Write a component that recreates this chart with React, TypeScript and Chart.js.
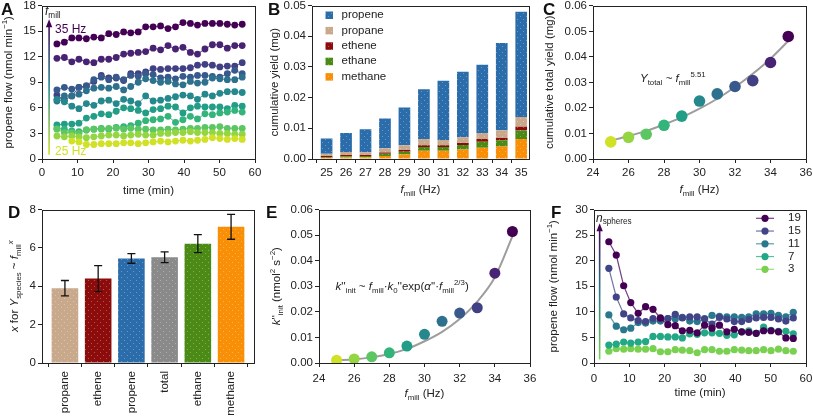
import React, { useEffect, useRef } from 'react';
import { Chart, registerables } from 'chart.js';
Chart.register(...registerables);

const FONT = '"Liberation Sans", Arial, Helvetica, sans-serif';
const W = 813;
const H = 418;
const FS = 11.5;
const INK = '#222222';

// ---------------- Panel A data ----------------
const timeMin = [4.2, 6.3, 8.4, 10.4, 12.5, 14.6, 16.7, 18.8, 20.9, 23.0, 25.0, 27.1, 29.2, 31.3, 33.4, 35.5, 37.6, 39.7, 41.8, 43.8, 45.9, 48.0, 50.1, 52.2, 54.3, 56.4];
const millHz = [25, 26, 27, 28, 29, 30, 31, 32, 33, 34, 35];
const flowA25 = [null, null, 2.1, 2.0, 1.7, 1.7, 1.8, 1.8, 1.8, 1.9, 1.9, 1.8, 1.9, 2.0, 2.1, 2.0, 2.1, 2.2, 2.1, 2.2, 2.3, 2.5, 2.4, 2.3, 2.4, 2.3];
const flowA26 = [2.7, 2.6, 2.7, 2.6, 2.5, 2.6, 2.7, 2.8, 2.8, 2.7, 2.8, 2.9, 2.8, 2.8, 3.0, 3.0, 3.1, 3.1, 3.2, 3.1, 3.1, 3.1, 3.0, 3.0, 2.9, 2.9];
const flowA27 = [3.5, 3.1, 3.1, 3.0, 3.4, 3.5, 3.5, 3.6, 3.6, 3.5, 3.6, 3.5, 3.5, 3.4, 3.4, 3.5, 3.4, 3.5, 3.6, 3.6, 3.7, 3.7, 3.8, 3.6, 3.6, 3.6];
const flowA28 = [3.6, 3.5, 3.3, 3.2, 3.4, 3.5, 3.6, 3.5, 3.7, 3.8, 3.9, 4.2, 4.5, 4.6, 4.7, 5.0, 4.3, 4.6, 5.0, 4.7, 5.3, 5.2, 5.4, 5.5, 5.7, 5.5];
const flowA29 = [4.0, 4.1, 4.1, 4.2, 4.8, 5.0, 5.3, 5.2, 5.6, 6.0, 5.9, 5.7, 5.4, 5.8, 5.9, 6.2, 6.1, 5.4, 6.0, 6.2, 6.1, 6.1, 6.1, 5.9, 6.3, 6.2];
const flowA30 = [7.0, 6.7, 6.2, 5.9, 6.5, 6.3, 6.8, 6.9, 6.5, 7.0, 6.8, 6.5, 7.4, 6.8, 6.9, 7.1, 7.3, 7.5, 7.4, 7.0, 7.6, 7.4, 7.7, 7.9, 7.9, 7.8];
const flowA31 = [6.8, 7.4, 7.4, 7.6, 8.0, 8.3, 8.4, 8.3, 8.5, 8.1, 8.5, 9.0, 9.4, 9.2, 9.0, 9.1, 8.8, 8.7, 9.1, 8.9, 9.0, 9.5, 9.4, 9.3, 9.3, 9.6];
const flowA32 = [8.1, 8.4, 8.2, 8.4, 8.6, 9.3, 9.6, 9.3, 9.6, 9.3, 9.8, 9.7, 10.0, 9.9, 9.5, 9.6, 9.4, 9.7, 9.6, 9.8, 9.8, 9.7, 9.6, 10.0, 10.4, 10.0];
const flowA33 = [7.5, 6.9, 7.4, 8.4, 8.5, 9.1, 9.8, 9.5, 9.5, 9.2, 10.0, 10.0, 10.2, 10.6, 10.5, 10.6, 10.6, 10.6, 10.7, 11.0, 11.1, 11.0, 10.8, 10.9, 10.9, 11.3];
const flowA34 = [11.8, 11.9, 11.4, 11.7, 11.4, 11.3, 11.7, 11.7, 11.9, 12.3, 12.4, 12.5, 12.6, 13.0, 12.8, 13.3, 12.9, 13.1, 12.5, 12.3, 12.9, 13.4, 13.4, 13.0, 13.3, 13.3];
const flowA35 = [13.5, 13.7, 14.2, 14.2, 14.1, 14.3, 14.2, 14.7, 14.6, 14.9, 14.8, 14.9, 15.5, 15.5, 15.6, 15.3, 15.5, 16.0, 15.9, 15.7, 15.9, 15.9, 15.9, 15.8, 15.7, 15.8];
const flowA = [flowA25, flowA26, flowA27, flowA28, flowA29, flowA30, flowA31, flowA32, flowA33, flowA34, flowA35];

// ---------------- Panel B data (stacked segments, mg) ----------------
const yieldMethane = [0.0003, 0.0005, 0.0006, 0.0010, 0.0015, 0.0027, 0.0027, 0.0031, 0.0037, 0.0041, 0.0065];
const yieldEthane = [0.0003, 0.0004, 0.0004, 0.0007, 0.0009, 0.0012, 0.0012, 0.0015, 0.0019, 0.0020, 0.0028];
const yieldEthene = [0.0004, 0.0004, 0.0003, 0.0004, 0.0005, 0.0006, 0.0006, 0.0006, 0.0009, 0.0007, 0.0012];
const yieldPropane = [0.0007, 0.0010, 0.0009, 0.0014, 0.0016, 0.0020, 0.0017, 0.0019, 0.0020, 0.0026, 0.0032];
const yieldPropene = [0.0050, 0.0062, 0.0075, 0.0097, 0.0123, 0.0162, 0.0193, 0.0213, 0.0222, 0.0284, 0.0343];
const legendB = ['propene', 'propane', 'ethene', 'ethane', 'methane'];

// ---------------- Panel C data ----------------
const totalYield = [0.0067, 0.0085, 0.0097, 0.0132, 0.0168, 0.0227, 0.0255, 0.0284, 0.0307, 0.0378, 0.0480];
const totalFit = [0.0072, 0.0090, 0.0110, 0.0135, 0.0163, 0.0197, 0.0236, 0.0282, 0.0334, 0.0393, 0.0462];

// ---------------- Panel D data ----------------
const speciesD = ['propane', 'ethene', 'propene', 'total', 'ethane', 'methane'];
const exponentD = [3.9, 4.4, 5.45, 5.51, 6.22, 7.1];
const exponentErr = [0.4, 0.68, 0.25, 0.28, 0.47, 0.65];

// ---------------- Panel E data ----------------
const kInit = [0.0011, 0.0016, 0.0024, 0.0040, 0.0066, 0.0112, 0.0163, 0.0195, 0.0216, 0.0351, 0.0514];
const kFit = [0.0010, 0.0015, 0.0022, 0.0035, 0.0055, 0.0085, 0.0122, 0.0172, 0.0240, 0.0335, 0.0495];

// ---------------- Panel F data ----------------
const nSpheres = [19, 15, 11, 7, 3];
const flowF19 = [23.7, 21.1, 15.1, 11.8, 9.7, 11.0, 10.5, 8.8, 7.5, 7.3, 6.3, 6.4, 5.9, 7.4, 6.8, 7.4, 6.1, 6.6, 6.1, 6.0, 5.8, 6.3, 6.3, 6.1, 4.9, 4.8];
const flowF15 = [18.5, 12.9, 9.6, 8.8, 8.3, 8.1, 8.7, 8.6, 8.7, 9.5, 8.8, 9.0, 9.0, 8.6, 7.6, 8.9, 8.6, 8.1, 8.1, 8.5, 8.8, 8.9, 8.9, 8.6, 8.2, 8.8];
const flowF11 = [9.4, 7.2, 6.5, 6.8, 7.9, 7.8, 8.2, 8.2, 8.7, 8.6, 8.9, 8.2, 8.1, 8.7, 9.3, 9.1, 9.0, 9.0, 8.9, 9.0, 9.6, 9.6, 9.7, 9.3, 9.0, 9.9];
const flowF7 = [3.5, 3.7, 4.1, 3.9, 4.1, 4.2, 5.2, 5.2, 5.1, 5.1, 4.9, 5.7, 5.6, 5.9, 5.9, 5.8, 5.4, 5.5, 6.1, 6.3, 5.8, 7.0, 6.4, 6.2, 6.2, 5.7];
const flowF3 = [2.3, 2.8, 2.7, 2.8, 2.7, 2.7, 2.8, 2.2, 2.2, 2.6, 2.5, 2.4, 2.0, 2.6, 2.6, 2.3, 2.3, 2.6, 2.5, 2.4, 2.4, 2.6, 2.4, 2.7, 2.4, 2.3];
const flowF = [flowF19, flowF15, flowF11, flowF7, flowF3];

// ---------------- Tick values ----------------
const ticksTime = [0, 10, 20, 30, 40, 50, 60];
const ticksFlowA = [0, 3, 6, 9, 12, 15, 18];
const ticksYieldB = [0, 0.01, 0.02, 0.03, 0.04, 0.05];
const ticksHz = [24, 26, 28, 30, 32, 34, 36];
const ticksYieldC = [0, 0.01, 0.02, 0.03, 0.04, 0.05, 0.06];
const ticksExpD = [0, 2, 4, 6, 8];
const ticksSpeciesD = [0, 1, 2, 3, 4, 5];
const ticksK = [0, 0.01, 0.02, 0.03, 0.04, 0.05, 0.06];
const ticksFlowF = [0, 5, 10, 15, 20, 25, 30];

// ---------------- Styles ----------------
const COL = {
  propene: '#2b6cab',
  propane: '#c9a98b',
  ethene: '#8c0c0c',
  ethane: '#4b8b15',
  methane: '#f98f06',
  total: '#8a8a8a',
};
const colorsD = [COL.propane, COL.ethene, COL.propene, COL.total, COL.ethane, COL.methane];

const VIR = ['#440154', '#482475', '#414487', '#355f8d', '#2a788e', '#21918c', '#22a884', '#44bf70', '#7ad151', '#bddf26', '#fde725'];
function hexToRgb(h: string) {
  const n = parseInt(h.slice(1), 16);
  return [(n >> 16) & 255, (n >> 8) & 255, n & 255];
}
function viridis(p: number, alpha = 1) {
  const x = Math.min(1, Math.max(0, p)) * 10;
  const i = Math.min(9, Math.floor(x));
  const f = x - i;
  const a = hexToRgb(VIR[i]);
  const b = hexToRgb(VIR[i + 1]);
  const c = a.map((v, k) => Math.round(v + (b[k] - v) * f));
  return `rgba(${c[0]},${c[1]},${c[2]},${alpha})`;
}
const hzColor = (hz: number, a = 1) => viridis((35 - hz) * 0.093, a);
const nColor = (n: number, a = 1) => viridis(((19 - n) / 16) * 0.8, a);

function dotted(color: string) {
  const c = document.createElement('canvas');
  c.width = 6;
  c.height = 6;
  const g = c.getContext('2d')!;
  g.fillStyle = color;
  g.fillRect(0, 0, 6, 6);
  g.fillStyle = 'rgba(255,255,255,0.3)';
  g.fillRect(1, 1, 1, 1);
  g.fillRect(4, 4, 1, 1);
  return g.createPattern(c, 'repeat') as CanvasPattern;
}

type Rect = { l: number; t: number; r: number; b: number };
const rectA: Rect = { l: 42, t: 5.5, r: 255, b: 159 };
const rectB: Rect = { l: 312, t: 5.5, r: 529, b: 159 };
const rectC: Rect = { l: 593, t: 5.5, r: 806, b: 159 };
const rectD: Rect = { l: 42, t: 209.5, r: 254, b: 363 };
const rectE: Rect = { l: 319, t: 209.5, r: 530, b: 363 };
const rectF: Rect = { l: 594, t: 209.5, r: 806, b: 363 };
const YW = 40;
const XH = 30;
const XH_D = 55;

type Seg = { t: string; i?: boolean; s?: 'sub' | 'sup' };

function drawRich(ctx: CanvasRenderingContext2D, segs: Seg[], x: number, y: number, size: number, color: string, align: 'left' | 'center' = 'center', rot = 0) {
  ctx.save();
  ctx.translate(x, y);
  if (rot) ctx.rotate(rot);
  ctx.fillStyle = color;
  ctx.textBaseline = 'middle';
  ctx.textAlign = 'left';
  const fontOf = (s: Seg) => `${s.i ? 'italic ' : ''}${s.s ? size * 0.68 : size}px ${FONT}`;
  let total = 0;
  const widths = segs.map((s) => {
    ctx.font = fontOf(s);
    const w = ctx.measureText(s.t).width;
    total += w;
    return w;
  });
  let cx = align === 'center' ? -total / 2 : 0;
  segs.forEach((s, k) => {
    ctx.font = fontOf(s);
    const dy = s.s === 'sub' ? size * 0.3 : s.s === 'sup' ? -size * 0.4 : 0;
    ctx.fillText(s.t, cx, dy);
    cx += widths[k];
  });
  ctx.restore();
}

function axis(horiz: boolean, min: number, max: number, vals: number[], fmt: (v: number) => string, pad = 3, extra: any = {}, size?: number) {
  return {
    type: 'linear',
    min,
    max,
    offset: false,
    grid: { display: true, drawOnChartArea: false, drawTicks: true, tickLength: 4, color: INK, tickColor: INK, lineWidth: 1 },
    border: { display: false },
    ticks: {
      color: INK,
      font: { family: FONT, size: FS },
      padding: pad,
      maxRotation: 0,
      minRotation: 0,
      autoSkip: false,
      callback: (v: any) => fmt(Number(v)),
    },
    afterBuildTicks: (s: any) => {
      s.ticks = vals.map((v) => ({ value: v }));
    },
    afterFit: (s: any) => {
      if (horiz) s.height = size ?? XH;
      else s.width = size ?? YW;
      s.paddingLeft = 0;
      s.paddingRight = 0;
      s.paddingTop = 0;
      s.paddingBottom = 0;
    },
    ...extra,
  };
}

const fmt0 = (v: number) => String(Math.round(v));
const fmt2 = (v: number) => v.toFixed(2);

function decor(rect: Rect, yTitle: Seg[], yTitleX: number, xTitle: Seg[] | null, xTitleY: number, extra?: (chart: any) => void) {
  return {
    id: 'decor',
    afterDraw(chart: any) {
      const ctx = chart.ctx as CanvasRenderingContext2D;
      const a = chart.chartArea;
      ctx.save();
      ctx.strokeStyle = INK;
      ctx.lineWidth = 1;
      const l = Math.round(a.left) + 0.5;
      const t = Math.round(a.top) + 0.5;
      const r = Math.round(a.right) + 0.5;
      const b = Math.round(a.bottom) + 0.5;
      ctx.strokeRect(l, t, r - l, b - t);
      ctx.restore();
      drawRich(ctx, yTitle, yTitleX, (rect.t + rect.b) / 2, FS, INK, 'center', -Math.PI / 2);
      if (xTitle) drawRich(ctx, xTitle, (rect.l + rect.r) / 2, xTitleY, FS, INK, 'center');
      if (extra) extra(chart);
    },
  };
}

function baseOptions(rect: Rect, scales: any, xh = XH) {
  return {
    responsive: false,
    animation: false,
    devicePixelRatio: 1,
    events: [],
    layout: { padding: { left: rect.l - YW, top: rect.t, right: W - rect.r, bottom: H - rect.b - xh } },
    plugins: { legend: { display: false }, tooltip: { enabled: false } },
    scales,
  };
}

function gradientArrow(ctx: CanvasRenderingContext2D, x: number, yBottom: number, yTop: number, cBottom: string, cMid: string, cTop: string) {
  const g = ctx.createLinearGradient(0, yBottom, 0, yTop);
  g.addColorStop(0, cBottom);
  g.addColorStop(0.5, cMid);
  g.addColorStop(1, cTop);
  ctx.save();
  ctx.strokeStyle = g;
  ctx.lineWidth = 1.6;
  ctx.beginPath();
  ctx.moveTo(x, yBottom);
  ctx.lineTo(x, yTop + 6);
  ctx.stroke();
  ctx.fillStyle = cTop;
  ctx.beginPath();
  ctx.moveTo(x, yTop);
  ctx.lineTo(x - 3.2, yTop + 8);
  ctx.lineTo(x + 3.2, yTop + 8);
  ctx.closePath();
  ctx.fill();
  ctx.restore();
}

const fMill: Seg[] = [{ t: 'f', i: true }, { t: 'mill', s: 'sub' }];

// ---------------- Chart configs ----------------
function cfgA() {
  return {
    type: 'line',
    data: {
      datasets: millHz.map((hz, k) => ({
        data: timeMin.map((t, i) => ({ x: t, y: flowA[k][i] })),
        borderColor: hzColor(hz, 0.85),
        backgroundColor: hzColor(hz),
        pointBackgroundColor: hzColor(hz),
        borderWidth: 1,
        pointRadius: 3.4,
        pointBorderWidth: 0,
        tension: 0,
        spanGaps: false,
      })),
    },
    options: baseOptions(rectA, {
      x: axis(true, 0, 60, ticksTime, fmt0, 3),
      y: axis(false, 0, 18, ticksFlowA, fmt0, 2),
    }),
    plugins: [
      decor(rectA, [{ t: 'propene flow (nmol min' }, { t: '−1', s: 'sup' }, { t: ')' }], 9, [{ t: 'time (min)' }], 191, (chart) => {
        const ctx = chart.ctx;
        const { x, y } = chart.scales;
        const px = x.getPixelForValue(2);
        gradientArrow(ctx, px, y.getPixelForValue(0.5), y.getPixelForValue(16.4), hzColor(25), hzColor(30), hzColor(35));
        drawRich(ctx, [...fMill], 45, 12, 12, INK, 'left');
        drawRich(ctx, [{ t: '35 Hz' }], 55, 29.5, 12, hzColor(35), 'left');
        drawRich(ctx, [{ t: '25 Hz' }], 55, 151.5, 12, hzColor(25), 'left');
      }),
    ],
  };
}

function cfgB() {
  const series = [
    { name: 'methane', v: yieldMethane },
    { name: 'ethane', v: yieldEthane },
    { name: 'ethene', v: yieldEthene },
    { name: 'propane', v: yieldPropane },
    { name: 'propene', v: yieldPropene },
  ];
  return {
    type: 'bar',
    data: {
      datasets: series.map((s) => ({
        label: s.name,
        data: millHz.map((f, i) => ({ x: f, y: s.v[i] })),
        backgroundColor: dotted((COL as any)[s.name]),
        borderWidth: 0,
        categoryPercentage: 0.6,
        barPercentage: 1,
      })),
    },
    options: baseOptions(rectB, {
      x: axis(true, 24.25, 35.4, millHz, fmt0, 3, { stacked: true }),
      y: axis(false, 0, 0.05, ticksYieldB, fmt2, 2, { stacked: true }),
    }),
    plugins: [
      decor(rectB, [{ t: 'cumulative yield (mg)' }], 275, [...fMill, { t: ' (Hz)' }], 190, (chart) => {
        const ctx = chart.ctx as CanvasRenderingContext2D;
        legendB.forEach((name, k) => {
          const cy = 15 + k * 15.4;
          ctx.fillStyle = dotted((COL as any)[name]);
          ctx.fillRect(325.5, cy - 3.5, 7.5, 7.5);
          drawRich(ctx, [{ t: name }], 341.5, cy, FS, INK, 'left');
        });
      }),
    ],
  };
}

function cfgC() {
  return {
    type: 'scatter',
    data: {
      datasets: [
        {
          data: millHz.map((f, i) => ({ x: f, y: totalYield[i] })),
          pointRadius: 5.8,
          pointBorderWidth: 0,
          pointBackgroundColor: millHz.map((f) => hzColor(f)),
          order: 0,
        },
        {
          type: 'line',
          data: millHz.map((f, i) => ({ x: f, y: totalFit[i] })),
          borderColor: '#9d9d9d',
          borderWidth: 2,
          pointRadius: 0,
          showLine: true,
          cubicInterpolationMode: 'monotone',
          order: 1,
        },
      ],
    },
    options: baseOptions(rectC, {
      x: axis(true, 24, 36, ticksHz, fmt0, 3),
      y: axis(false, 0, 0.06, ticksYieldC, fmt2, 2),
    }),
    plugins: [
      decor(rectC, [{ t: 'cumulative total yield (mg)' }], 550, [...fMill, { t: ' (Hz)' }], 190, (chart) => {
        drawRich(chart.ctx, [{ t: 'Y', i: true }, { t: 'total', s: 'sub' }, { t: ' ~ ' }, ...fMill, { t: '5.51', s: 'sup' }], 640, 79, FS, INK, 'left');
      }),
    ],
  };
}

function cfgD() {
  return {
    type: 'bar',
    data: {
      datasets: [
        {
          data: speciesD.map((_, i) => ({ x: i, y: exponentD[i] })),
          backgroundColor: colorsD.map((c) => dotted(c)),
          borderWidth: 0,
          categoryPercentage: 0.8,
          barPercentage: 1,
        },
      ],
    },
    options: baseOptions(
      rectD,
      {
        x: axis(
          true,
          -0.69,
          5.69,
          ticksSpeciesD,
          (v) => speciesD[Math.round(v)] ?? '',
          4,
          {
            ticks: {
              color: INK,
              font: { family: FONT, size: FS },
              padding: 4,
              maxRotation: 90,
              minRotation: 90,
              autoSkip: false,
              callback: (v: any) => speciesD[Math.round(Number(v))] ?? '',
            },
          },
          XH_D
        ),
        y: axis(false, 0, 8, ticksExpD, fmt0, 2),
      },
      XH_D
    ),
    plugins: [
      {
        id: 'errbars',
        afterDatasetsDraw(chart: any) {
          const ctx = chart.ctx as CanvasRenderingContext2D;
          const { x, y } = chart.scales;
          ctx.save();
          ctx.strokeStyle = '#111';
          ctx.lineWidth = 1.3;
          exponentD.forEach((v, i) => {
            const px = x.getPixelForValue(i);
            const y0 = y.getPixelForValue(v - exponentErr[i]);
            const y1 = y.getPixelForValue(v + exponentErr[i]);
            ctx.beginPath();
            ctx.moveTo(px, y0);
            ctx.lineTo(px, y1);
            ctx.moveTo(px - 4, y0);
            ctx.lineTo(px + 4, y0);
            ctx.moveTo(px - 4, y1);
            ctx.lineTo(px + 4, y1);
            ctx.stroke();
          });
          ctx.restore();
        },
      },
      decor(rectD, [{ t: 'x', i: true }, { t: ' for ' }, { t: 'Y', i: true }, { t: 'species', s: 'sub' }, { t: ' ~ ' }, ...fMill, { t: 'x', i: true, s: 'sup' }], 15, null, 0),
    ],
  };
}

function cfgE() {
  return {
    type: 'scatter',
    data: {
      datasets: [
        {
          data: millHz.map((f, i) => ({ x: f, y: kInit[i] })),
          pointRadius: 5.5,
          pointBorderWidth: 0,
          pointBackgroundColor: millHz.map((f) => hzColor(f)),
          order: 0,
        },
        {
          type: 'line',
          data: millHz.map((f, i) => ({ x: f, y: kFit[i] })),
          borderColor: '#9d9d9d',
          borderWidth: 2,
          pointRadius: 0,
          showLine: true,
          cubicInterpolationMode: 'monotone',
          order: 1,
        },
      ],
    },
    options: baseOptions(rectE, {
      x: axis(true, 24, 36, ticksHz, fmt0, 5),
      y: axis(false, 0, 0.06, ticksK, fmt2, 2),
    }),
    plugins: [
      decor(
        rectE,
        [{ t: 'k', i: true }, { t: "''" }, { t: 'init', s: 'sub' }, { t: ' (nmol' }, { t: '2', s: 'sup' }, { t: ' s' }, { t: '−2', s: 'sup' }, { t: ')' }],
        277,
        [...fMill, { t: ' (Hz)' }],
        394,
        (chart) => {
          drawRich(
            chart.ctx,
            [
              { t: 'k', i: true }, { t: "''" }, { t: 'init', s: 'sub' }, { t: ' ~ ' }, ...fMill, { t: '·' },
              { t: 'k', i: true }, { t: '0', s: 'sub' }, { t: "''exp(" }, { t: 'α', i: true }, { t: "''·" }, ...fMill, { t: '2/3', s: 'sup' }, { t: ')' },
            ],
            335.5,
            287,
            FS,
            INK,
            'left'
          );
        }
      ),
    ],
  };
}

function cfgF() {
  return {
    type: 'line',
    data: {
      datasets: nSpheres.map((n, k) => ({
        data: timeMin.map((t, i) => ({ x: t, y: flowF[k][i] })),
        borderColor: nColor(n, 0.75),
        pointBackgroundColor: nColor(n),
        backgroundColor: nColor(n),
        borderWidth: 1.2,
        pointRadius: 3.6,
        pointBorderWidth: 0,
        tension: 0,
      })),
    },
    options: baseOptions(rectF, {
      x: axis(true, 0, 60, ticksTime, fmt0, 5),
      y: axis(false, 0, 30, ticksFlowF, fmt0, 2),
    }),
    plugins: [
      decor(rectF, [{ t: 'propene flow (nmol min' }, { t: '−1', s: 'sup' }, { t: ')' }], 554, [{ t: 'time (min)' }], 393, (chart) => {
        const ctx = chart.ctx as CanvasRenderingContext2D;
        const { x, y } = chart.scales;
        const px = x.getPixelForValue(1.6);
        gradientArrow(ctx, px, y.getPixelForValue(0.7), y.getPixelForValue(27.3), nColor(3), nColor(11), nColor(19));
        drawRich(ctx, [{ t: 'n', i: true }, { t: 'spheres', s: 'sub' }], 596, 218.5, 12, INK, 'left');
        nSpheres.forEach((n, k) => {
          const cy = 218.3 + k * 12.75;
          ctx.save();
          ctx.strokeStyle = nColor(n, 0.75);
          ctx.lineWidth = 1.2;
          ctx.beginPath();
          ctx.moveTo(756, cy);
          ctx.lineTo(774, cy);
          ctx.stroke();
          ctx.fillStyle = nColor(n);
          ctx.beginPath();
          ctx.arc(765, cy, 3.6, 0, Math.PI * 2);
          ctx.fill();
          ctx.restore();
          drawRich(ctx, [{ t: String(n) }], 788, cy, FS, INK, 'left');
        });
      }),
    ],
  };
}

function ChartLayer({ make }: { make: () => any }) {
  const ref = useRef<HTMLCanvasElement>(null);
  useEffect(() => {
    const chart = new Chart(ref.current as HTMLCanvasElement, make() as any);
    return () => chart.destroy();
  }, [make]);
  return <canvas ref={ref} width={W} height={H} style={{ position: 'absolute', left: 0, top: 0, width: W, height: H }} />;
}

const letterStyle = (left: number, top: number): React.CSSProperties => ({
  position: 'absolute',
  left,
  top,
  font: `bold 17px ${FONT}`,
  color: '#111',
  lineHeight: '17px',
});

export default function App() {
  return (
    <div style={{ position: 'absolute', left: 0, top: 0, width: W, height: H, background: '#fff', overflow: 'hidden' }}>
      <ChartLayer make={cfgA} />
      <ChartLayer make={cfgB} />
      <ChartLayer make={cfgC} />
      <ChartLayer make={cfgD} />
      <ChartLayer make={cfgE} />
      <ChartLayer make={cfgF} />
      <div style={letterStyle(1, 1)}>A</div>
      <div style={letterStyle(268, 1)}>B</div>
      <div style={letterStyle(543, 1)}>C</div>
      <div style={letterStyle(8, 204)}>D</div>
      <div style={letterStyle(266, 204)}>E</div>
      <div style={letterStyle(551, 204)}>F</div>
    </div>
  );
}
